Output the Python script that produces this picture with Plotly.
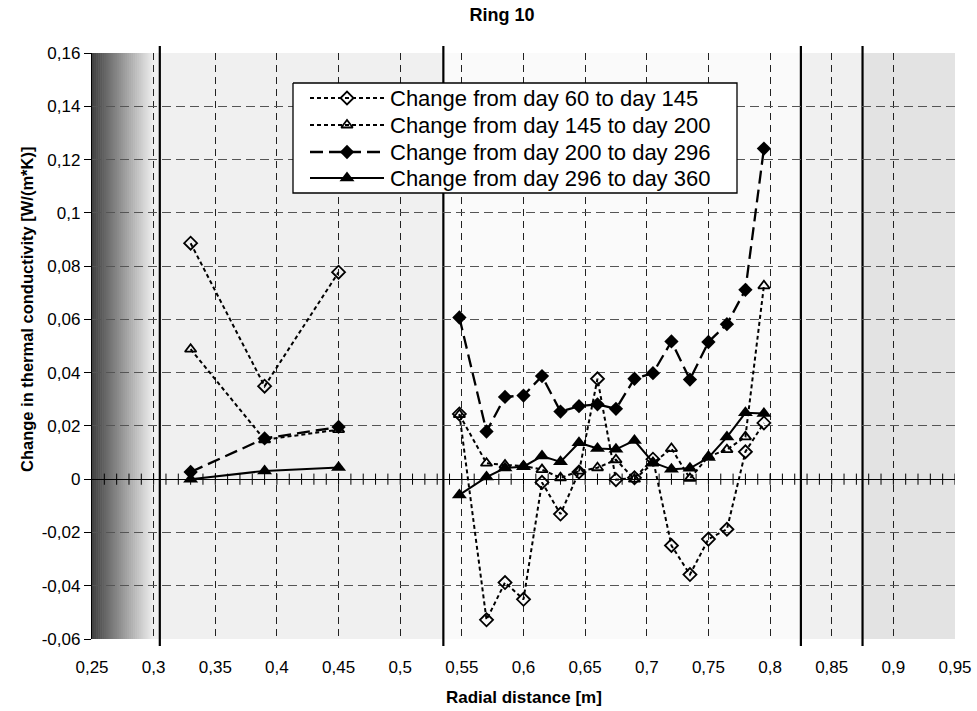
import numpy as np
import plotly.graph_objects as go

# ---------------- data ----------------
x_left = [0.33, 0.39, 0.45]
x_right = [0.548, 0.57, 0.585, 0.60, 0.615, 0.63, 0.645, 0.66, 0.675,
           0.69, 0.705, 0.72, 0.735, 0.75, 0.765, 0.78, 0.795]

s1_left = [0.0886, 0.0349, 0.0777]
s1_right = [0.0245, -0.0528, -0.0388, -0.0451, -0.0012, -0.0131, 0.0027, 0.0377, -0.0002,
            0.0005, 0.0075, -0.0249, -0.0358, -0.0225, -0.0188, 0.0103, 0.0211]

s2_left = [0.0488, 0.0148, 0.0186]
s2_right = [0.0242, 0.0060, 0.0053, 0.0050, 0.0036, 0.0005, 0.0030, 0.0043, 0.0073,
            0.0000, 0.0060, 0.0115, 0.0003, 0.0085, 0.0111, 0.0159, 0.0726]

s3_left = [0.0027, 0.0153, 0.0196]
s3_right = [0.0607, 0.0179, 0.0309, 0.0314, 0.0387, 0.0254, 0.0274, 0.0281, 0.0264,
            0.0377, 0.0398, 0.0517, 0.0374, 0.0515, 0.0582, 0.0711, 0.1241]

s4_left = [0.0000, 0.0031, 0.0044]
s4_right = [-0.0059, 0.0008, 0.0042, 0.0047, 0.0087, 0.0065, 0.0137, 0.0115, 0.0112,
            0.0145, 0.0063, 0.0037, 0.0041, 0.0081, 0.0158, 0.0249, 0.0247]

series_names = ["Change from day 60 to day 145", "Change from day 145 to day 200",
                "Change from day 200 to day 296", "Change from day 296 to day 360"]

x_tickvals = [0.25, 0.3, 0.35, 0.4, 0.45, 0.5, 0.55, 0.6, 0.65, 0.7, 0.75, 0.8, 0.85, 0.9, 0.95]
x_ticktext = ["0,25", "0,3", "0,35", "0,4", "0,45", "0,5", "0,55", "0,6", "0,65", "0,7",
              "0,75", "0,8", "0,85", "0,9", "0,95"]
y_tickvals = [0.16, 0.14, 0.12, 0.1, 0.08, 0.06, 0.04, 0.02, 0, -0.02, -0.04, -0.06]
y_ticktext = ["0,16", "0,14", "0,12", "0,1", "0,08", "0,06", "0,04", "0,02", "0",
              "-0,02", "-0,04", "-0,06"]

# background zones (radial positions)
gradient_range = (0.25, 0.300)
band_edges = [0.300, 0.535, 0.825, 0.875, 0.95]
band_colors = ["#f0f0f0", "#fafafa", "#f0f0f0", "#e3e3e3"]
divider_x = [0.305, 0.535, 0.825, 0.875]

FONT = "Arial, Liberation Sans, sans-serif"

# plot-area geometry in pixels (for the hand-built legend)
PL, PR, PT, PB = 92, 955, 53, 639
def px_x(p):
    return (p - PL) / (PR - PL)
def px_y(p):
    return (PB - p) / (PB - PT)

LEG_BOX = (293, 737, 83, 193)            # left, right, top, bottom (px)
LEG_ROWS = [98, 125, 152, 178]           # row centres (px)
LEG_SAMPLE = (310, 384)                  # sample line extent (px)
LEG_TEXT_X = 388


def joined(a, b):
    return a + [None] + b


fig = go.Figure()

# minor tick marks along the horizontal axis drawn at y = 0
minor_x = np.round(np.arange(0.26, 0.9501, 0.01), 3)
fig.add_trace(go.Scatter(x=minor_x, y=np.zeros_like(minor_x), mode="markers",
                         marker=dict(symbol="line-ns", size=8,
                                     line=dict(color="black", width=1)),
                         showlegend=False, hoverinfo="skip"))

xs = joined(x_left, x_right)
styles = [
    dict(y=joined(s1_left, s1_right), dash="4px,3px", lw=2,
         marker=dict(symbol="diamond-open", size=10, color="black", line=dict(width=1.8))),
    dict(y=joined(s2_left, s2_right), dash="4px,3px", lw=2,
         marker=dict(symbol="triangle-up-open", size=10, color="black", line=dict(width=1.8))),
    dict(y=joined(s3_left, s3_right), dash="13px,6px", lw=2.3,
         marker=dict(symbol="diamond", size=11, color="black")),
    dict(y=joined(s4_left, s4_right), dash="solid", lw=2,
         marker=dict(symbol="triangle-up", size=13, color="black")),
]
for name, st in zip(series_names, styles):
    fig.add_trace(go.Scatter(x=xs, y=st["y"], name=name, mode="lines+markers",
                             connectgaps=False, showlegend=False,
                             line=dict(color="black", width=st["lw"], dash=st["dash"]),
                             marker=st["marker"]))

# ---- hand-built legend on an overlay (paper-like) axis ----
bl, br, bt, bb = LEG_BOX
fig.add_trace(go.Scatter(x=[px_x(bl), px_x(br), px_x(br), px_x(bl), px_x(bl)],
                         y=[px_y(bt), px_y(bt), px_y(bb), px_y(bb), px_y(bt)],
                         xaxis="x2", yaxis="y2", mode="lines", fill="toself",
                         fillcolor="white", line=dict(color="black", width=1.3),
                         showlegend=False, hoverinfo="skip"))
annotations = []
for name, st, ry in zip(series_names, styles, LEG_ROWS):
    sx0, sx1 = LEG_SAMPLE
    fig.add_trace(go.Scatter(x=[px_x(sx0), px_x(sx1)], y=[px_y(ry), px_y(ry)],
                             xaxis="x2", yaxis="y2", mode="lines",
                             line=dict(color="black", width=st["lw"], dash=st["dash"]),
                             showlegend=False, hoverinfo="skip"))
    fig.add_trace(go.Scatter(x=[px_x((sx0 + sx1) / 2)], y=[px_y(ry)],
                             xaxis="x2", yaxis="y2", mode="markers",
                             marker=st["marker"],
                             showlegend=False, hoverinfo="skip"))
    annotations.append(dict(text=name, xref="x2", yref="y2", x=px_x(LEG_TEXT_X), y=px_y(ry),
                            xanchor="left", yanchor="middle", showarrow=False,
                            font=dict(family=FONT, size=22, color="black")))

shapes = []
# gradient zone
n_strips = 30
g0, g1 = gradient_range
for i in range(n_strips):
    a = g0 + (g1 - g0) * i / n_strips
    b = g0 + (g1 - g0) * (i + 1) / n_strips + 0.0005
    t = (i + 0.5) / n_strips
    v = int(round(0x40 + (0xf0 - 0x40) * t))
    shapes.append(dict(type="rect", xref="x", yref="paper", x0=a, x1=min(b, g1), y0=0, y1=1,
                       fillcolor=f"rgb({v},{v},{v})", line=dict(width=0), layer="below"))
for a, b, c in zip(band_edges[:-1], band_edges[1:], band_colors):
    shapes.append(dict(type="rect", xref="x", yref="paper", x0=a, x1=b, y0=0, y1=1,
                       fillcolor=c, line=dict(width=0), layer="below"))
for dx in divider_x:
    shapes.append(dict(type="line", xref="x", yref="paper", x0=dx, x1=dx, y0=-0.012, y1=1.012,
                       line=dict(color="black", width=2.2), layer="below"))

annotations += [
    dict(text="<b>Radial distance [m]</b>", xref="paper", yref="paper",
         x=0.5, y=(639 - 697) / 586, xanchor="center", yanchor="middle",
         showarrow=False, font=dict(family=FONT, size=17, color="black")),
    dict(text="<b>Change in thermal conductivity [W/(m*K)]</b>", xref="paper", yref="paper",
         x=(27 - 92) / 863, y=(639 - 310) / 586, xanchor="center", yanchor="middle",
         textangle=-90, showarrow=False, font=dict(family=FONT, size=16.5, color="black")),
]

fig.update_layout(
    width=977, height=711,
    margin=dict(l=PL, r=977 - PR, t=PT, b=711 - PB, autoexpand=False),
    paper_bgcolor="white", plot_bgcolor="#f0f0f0",
    font=dict(family=FONT, size=17, color="black"),
    title=dict(text="<b>Ring 10</b>", x=502 / 977, xref="container", xanchor="center",
               y=1 - 15 / 711, yref="container", yanchor="middle",
               font=dict(family=FONT, size=18, color="black")),
    shapes=shapes,
    showlegend=False,
    xaxis=dict(range=[0.25, 0.95], tickvals=x_tickvals, ticktext=x_ticktext,
               showgrid=True, gridcolor="#222222", gridwidth=1, griddash="7px,5px",
               zeroline=False, showline=False, ticks="", ticklabelstandoff=16,
               automargin=False, tickfont=dict(size=17)),
    yaxis=dict(range=[-0.06, 0.16], tickvals=y_tickvals, ticktext=y_ticktext,
               showgrid=True, gridcolor="#555555", gridwidth=1.2, griddash="9px,5px",
               zeroline=True, zerolinecolor="black", zerolinewidth=1.2,
               showline=True, linecolor="black", linewidth=1.3,
               ticks="outside", ticklen=7, tickcolor="black", tickwidth=1,
               automargin=False, tickfont=dict(size=17)),
    xaxis2=dict(range=[0, 1], overlaying="x", anchor="y2", visible=False, fixedrange=True,
                automargin=False),
    yaxis2=dict(range=[0, 1], overlaying="y", anchor="x2", visible=False, fixedrange=True,
                automargin=False),
    annotations=annotations,
)

fig.write_html("out.html")
